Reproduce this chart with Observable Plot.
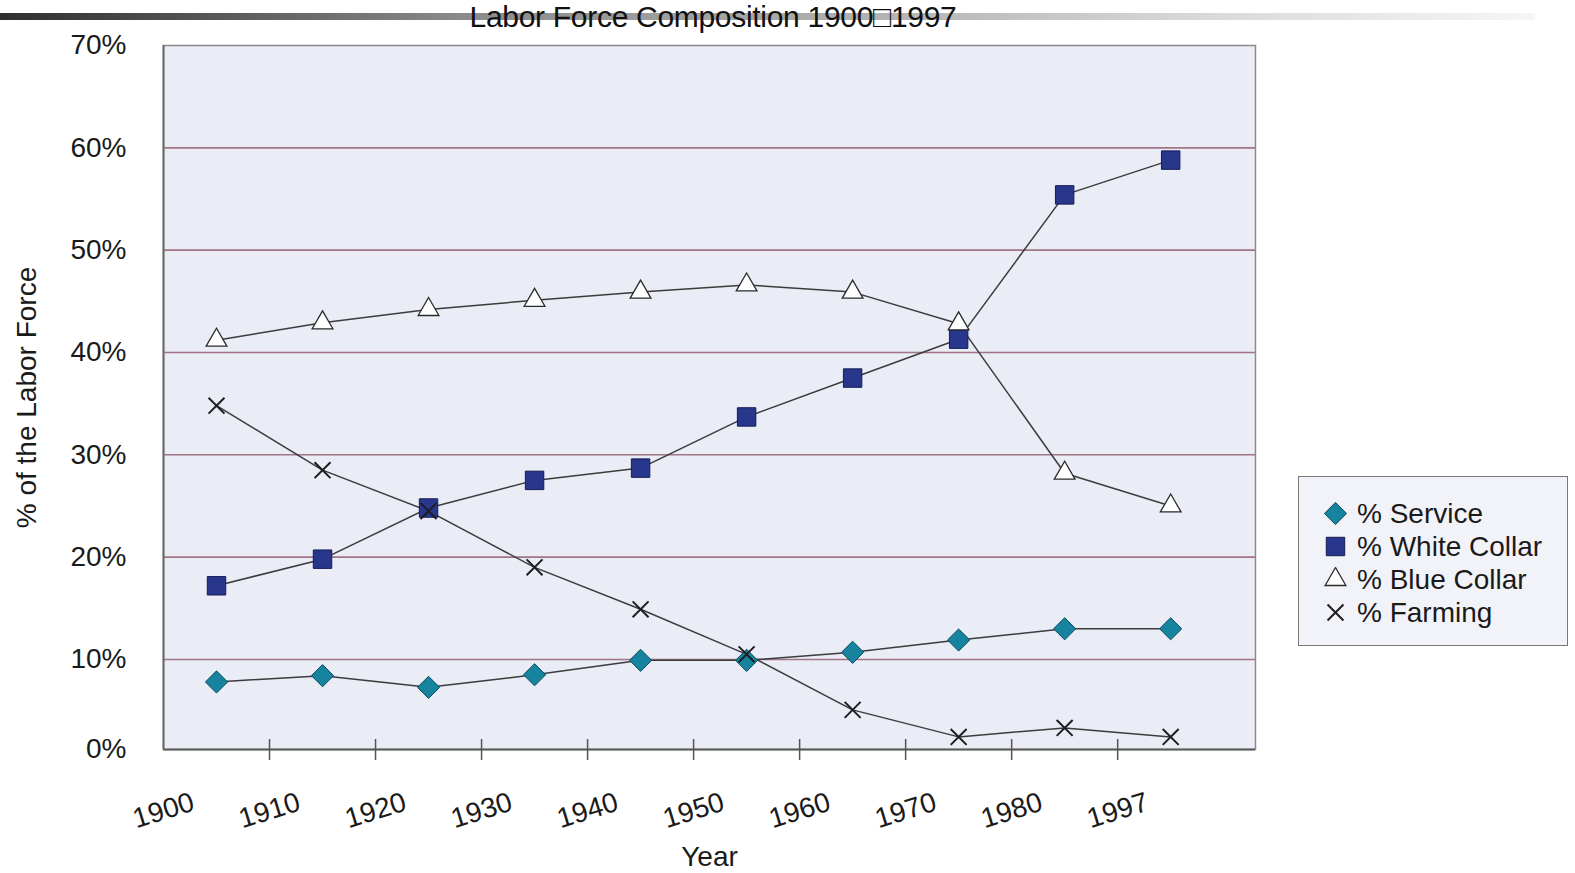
<!DOCTYPE html>
<html>
<head>
<meta charset="utf-8">
<script src="https://cdn.jsdelivr.net/npm/d3@7"></script>
<script src="https://cdn.jsdelivr.net/npm/@observablehq/plot@0.6"></script>
<style>
  html, body { margin: 0; padding: 0; background: #fff; }
  body { width: 1575px; height: 873px; position: relative; overflow: hidden;
         font-family: "Liberation Sans", Arial, sans-serif; color: #1a1a1a; }
  #header { position: relative; height: 30px; width: 1575px; }
  #bar { position: absolute; left: 0; top: 13px; height: 7px; width: 1535px;
         background: linear-gradient(to right, #2e2e2e 0%, #585858 14%, #8a8a8a 30%, #b4b4b4 58%, #d8d8d8 78%, #f6f6f6 100%); }
  #title { position: absolute; left: 0; top: 0; width: 1426px; text-align: center;
           font-size: 30px; line-height: 34px; color: #111; letter-spacing: -0.3px; }
  #legend { position: absolute; left: 1298px; top: 476px; width: 268px; height: 168px;
            border: 1.5px solid #777; background: #F2F3F8; }
  .row { position: absolute; left: 0; height: 33px; }
  .row svg { position: absolute; left: 24px; top: 4px; }
  .row span { position: absolute; left: 58px; white-space: nowrap; font-size: 28px; line-height: 33px; top: 0; }
</style>
</head>
<body>
<div id="header"><div id="bar"></div><div id="title">Labor Force Composition 1900□1997</div></div>
<div id="chart"></div>
<div id="legend"></div>
<script>
const years = ["1900","1910","1920","1930","1940","1950","1960","1970","1980","1997"];
const seriesNames = ["% Service", "% White Collar", "% Blue Collar", "% Farming"];
const service     = [7.5, 8.2, 6.9, 8.3, 9.9, 9.9, 10.7, 11.9, 13.0, 13.0];
const whiteCollar = [17.2, 19.8, 24.8, 27.5, 28.7, 33.7, 37.5, 41.3, 55.4, 58.8];
const blueCollar  = [41.2, 42.9, 44.2, 45.1, 45.9, 46.6, 45.9, 42.8, 28.2, 25.0];
const farming     = [34.8, 28.5, 24.5, 19.0, 14.9, 10.5, 4.4, 1.4, 2.4, 1.4];
const yTicks = [0, 10, 20, 30, 40, 50, 60, 70];
const gridValues = [10, 20, 30, 40, 50, 60];

// The original axis has a compressed first interval (0%–10%); reproduce it with a piecewise warp.
const lowFactor = 0.88;
const warp = v => v >= 10 ? v : 10 - (10 - v) * lowFactor;

const allSeries = [service, whiteCollar, blueCollar, farming];
const data = [];
allSeries.forEach((vals, s) => vals.forEach((v, i) => data.push({series: seriesNames[s], xi: i + 0.5, value: v})));
const bySeries = name => data.filter(d => d.series === name);

const styles = {
  "% Service":      {symbol: "diamond2", r: 10,   fill: "#17849F", stroke: "#0C4A5E", strokeWidth: 1},
  "% White Collar": {symbol: "square",   r: 10.4, fill: "#28368C", stroke: "#141C55", strokeWidth: 1},
  "% Blue Collar":  {symbol: "triangle", r: 7.7,  fill: "#ffffff", stroke: "#2a2a2a", strokeWidth: 1.3},
  "% Farming":      {symbol: "times",    r: 7.3,  fill: "none",    stroke: "#1e1e1e", strokeWidth: 2}
};

const font = '"Liberation Sans", Arial, sans-serif';
const tickIdx = years.map((d, i) => i);

const chart = Plot.plot({
  width: 1575,
  height: 843,
  marginTop: 15,
  marginBottom: 124,
  marginLeft: 163,
  marginRight: 320,
  style: {fontFamily: font, fontSize: "28px", color: "#1a1a1a", background: "transparent"},
  x: {domain: [0, 10.3], axis: null},
  y: {domain: [warp(0), 70], axis: null},
  marks: [
    Plot.frame({fill: "#EAECF6", stroke: "none"}),
    Plot.ruleY(gridValues, {y: warp, stroke: "#A07585", strokeWidth: 1.6}),
    Plot.frame({stroke: "#8a8a8a", strokeWidth: 1.5}),
    Plot.ruleY([0], {y: warp, stroke: "#5a5a5a", strokeWidth: 2}),
    Plot.ruleX([0], {stroke: "#6a6a6a", strokeWidth: 2}),
    Plot.axisX({ticks: tickIdx.slice(1), tickSize: 21, dy: -10, tickFormat: () => null, stroke: "#555", strokeWidth: 1.5, label: null}),
    Plot.text(tickIdx, {x: d => d, text: d => years[d], frameAnchor: "bottom", dy: 61, rotate: -17,
                        textAnchor: "middle", lineAnchor: "middle", fontSize: 28, fill: "#1a1a1a"}),
    Plot.text(yTicks, {y: warp, text: d => d + "%", frameAnchor: "left", dx: -37, textAnchor: "end",
                        lineAnchor: "middle", fontSize: 28, fill: "#1a1a1a"}),
    Plot.text(["% of the Labor Force"], {text: d => d, frameAnchor: "left", dx: -136, rotate: -90,
                        textAnchor: "middle", lineAnchor: "middle", fontSize: 28, fill: "#1a1a1a"}),
    Plot.text(["Year"], {text: d => d, frameAnchor: "bottom", dy: 108, lineAnchor: "middle", fontSize: 28, fill: "#1a1a1a"}),
    Plot.line(data, {x: "xi", y: d => warp(d.value), z: "series", stroke: "#3c3c3c", strokeWidth: 1.5}),
    ...seriesNames.map(name => Plot.dot(bySeries(name), {x: "xi", y: d => warp(d.value), ...styles[name]}))
  ]
});
document.getElementById("chart").appendChild(chart);

// Legend
const symMap = {diamond2: d3.symbolDiamond2, square: d3.symbolSquare, triangle: d3.symbolTriangle, times: d3.symbolTimes};
const legend = document.getElementById("legend");
const rowTops = [20, 53, 86, 119];
seriesNames.forEach((name, i) => {
  const st = styles[name];
  const row = document.createElement("div");
  row.className = "row";
  row.style.top = rowTops[i] + "px";
  const path = d3.symbol(symMap[st.symbol], Math.PI * st.r * st.r)();
  row.innerHTML = `<svg width="25" height="25" viewBox="-12.5 -12.5 25 25"><path d="${path}" fill="${st.fill}" stroke="${st.stroke}" stroke-width="${st.strokeWidth}"/></svg><span>${name}</span>`;
  legend.appendChild(row);
});
</script>
</body>
</html>
